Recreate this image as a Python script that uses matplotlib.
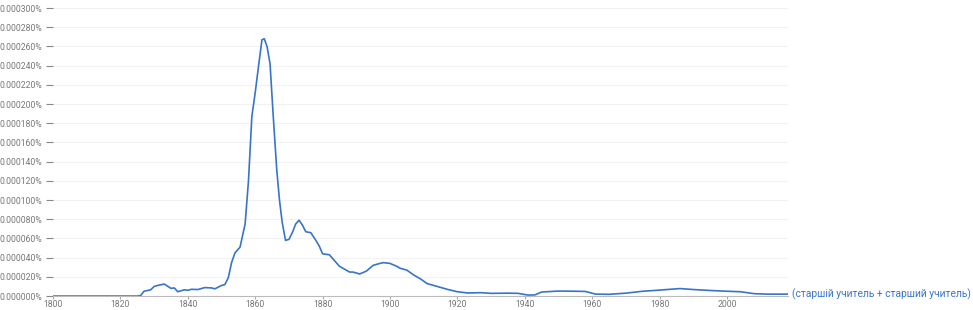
import matplotlib
matplotlib.use('Agg')
import matplotlib.pyplot as plt
from matplotlib.ticker import FuncFormatter

# Frequency (in percent)
years = [1800, 1825, 1826, 1827, 1829, 1830, 1831, 1833, 1835, 1836, 1837, 1839,
         1840, 1841, 1843, 1845, 1847, 1848, 1850, 1851, 1852, 1853, 1854, 1855.5,
         1857, 1858, 1859, 1860, 1861, 1862, 1862.7, 1863.5, 1864.4, 1865.3, 1866.4,
         1867.2, 1868, 1869, 1870, 1871, 1872, 1873, 1874, 1875, 1876.5, 1878, 1879,
         1880, 1882, 1883, 1885, 1887, 1888, 1889, 1891, 1893, 1895, 1897, 1898,
         1900, 1902, 1903, 1905, 1907, 1909, 1911, 1914, 1917, 1920, 1923, 1927,
         1930, 1935, 1938, 1941, 1943, 1945, 1950, 1955, 1958, 1961, 1965, 1970,
         1975, 1980, 1986, 1990, 1995, 2000, 2004, 2008, 2012, 2018]
values = [0, 0, 0.0000005, 0.000005, 0.0000065, 0.00001, 0.000011, 0.0000125,
          0.000008, 0.0000085, 0.0000045, 0.0000065, 0.000006, 0.000007, 0.0000068,
          0.0000088, 0.0000085, 0.0000075, 0.000011, 0.000012, 0.000019, 0.000035,
          0.000045, 0.000051, 0.000075, 0.00012, 0.000187, 0.000212, 0.00024,
          0.000267, 0.000268, 0.00026, 0.000242, 0.00019, 0.000131, 0.0001, 0.000077,
          0.000058, 0.000059, 0.000066, 0.000075, 0.000079, 0.000074, 0.000067,
          0.000066, 0.000058, 0.000052, 0.000044, 0.000043, 0.000039, 0.000031,
          0.000027, 0.000025, 0.000025, 0.000023, 0.000026, 0.000032, 0.000034,
          0.0000348, 0.000034, 0.000031, 0.000029, 0.000027, 0.000022, 0.000018,
          0.000013, 0.00001, 0.000007, 0.0000045, 0.0000032, 0.0000035, 0.0000028,
          0.000003, 0.0000028, 0.000001, 0.0000012, 0.0000042, 0.0000052, 0.000005,
          0.0000048, 0.000002, 0.0000018, 0.000003, 0.000005, 0.0000062, 0.0000078,
          0.0000068, 0.0000058, 0.000005, 0.0000045, 0.0000025, 0.000002, 0.000002]
series_label = '(старшій учитель + старший учитель)'
x_ticks = [1800, 1820, 1840, 1860, 1880, 1900, 1920, 1940, 1960, 1980, 2000]
y_ticks = [i * 0.00002 for i in range(16)]

plt.rcParams['font.family'] = ['Roboto', 'DejaVu Sans']

fig = plt.figure(figsize=(9.73, 3.10), dpi=100)
ax = fig.add_axes([0.0545, 0.045, 0.755, 0.929])

line_color = '#3874cb'
ax.plot(years, values, color=line_color, linewidth=1.2, solid_joinstyle='round')

ax.set_xlim(1800, 2018)
ax.set_ylim(0, 0.0003)
ax.set_xticks(x_ticks)
ax.set_yticks(y_ticks)
ax.yaxis.set_major_formatter(FuncFormatter(lambda v, p: '%.6f%%' % v))

ax.grid(axis='y', color='#f2f2f2', linewidth=0.8)
ax.set_axisbelow(True)
for s in ['top', 'right', 'left']:
    ax.spines[s].set_visible(False)
ax.spines['bottom'].set_color('#bbbbbb')
ax.tick_params(axis='y', length=5, color='#888888', labelcolor='#777777',
               labelsize=6.2, pad=3)
ax.tick_params(axis='x', length=2.5, color='#aaaaaa', labelcolor='#777777',
               labelsize=6.2, pad=0)

ax.annotate(series_label, xy=(years[-1], values[-1]), xytext=(3, 0),
            textcoords='offset points', color=line_color, fontsize=7.35,
            va='center', ha='left', annotation_clip=False)

fig.savefig('out.png', dpi=100)
